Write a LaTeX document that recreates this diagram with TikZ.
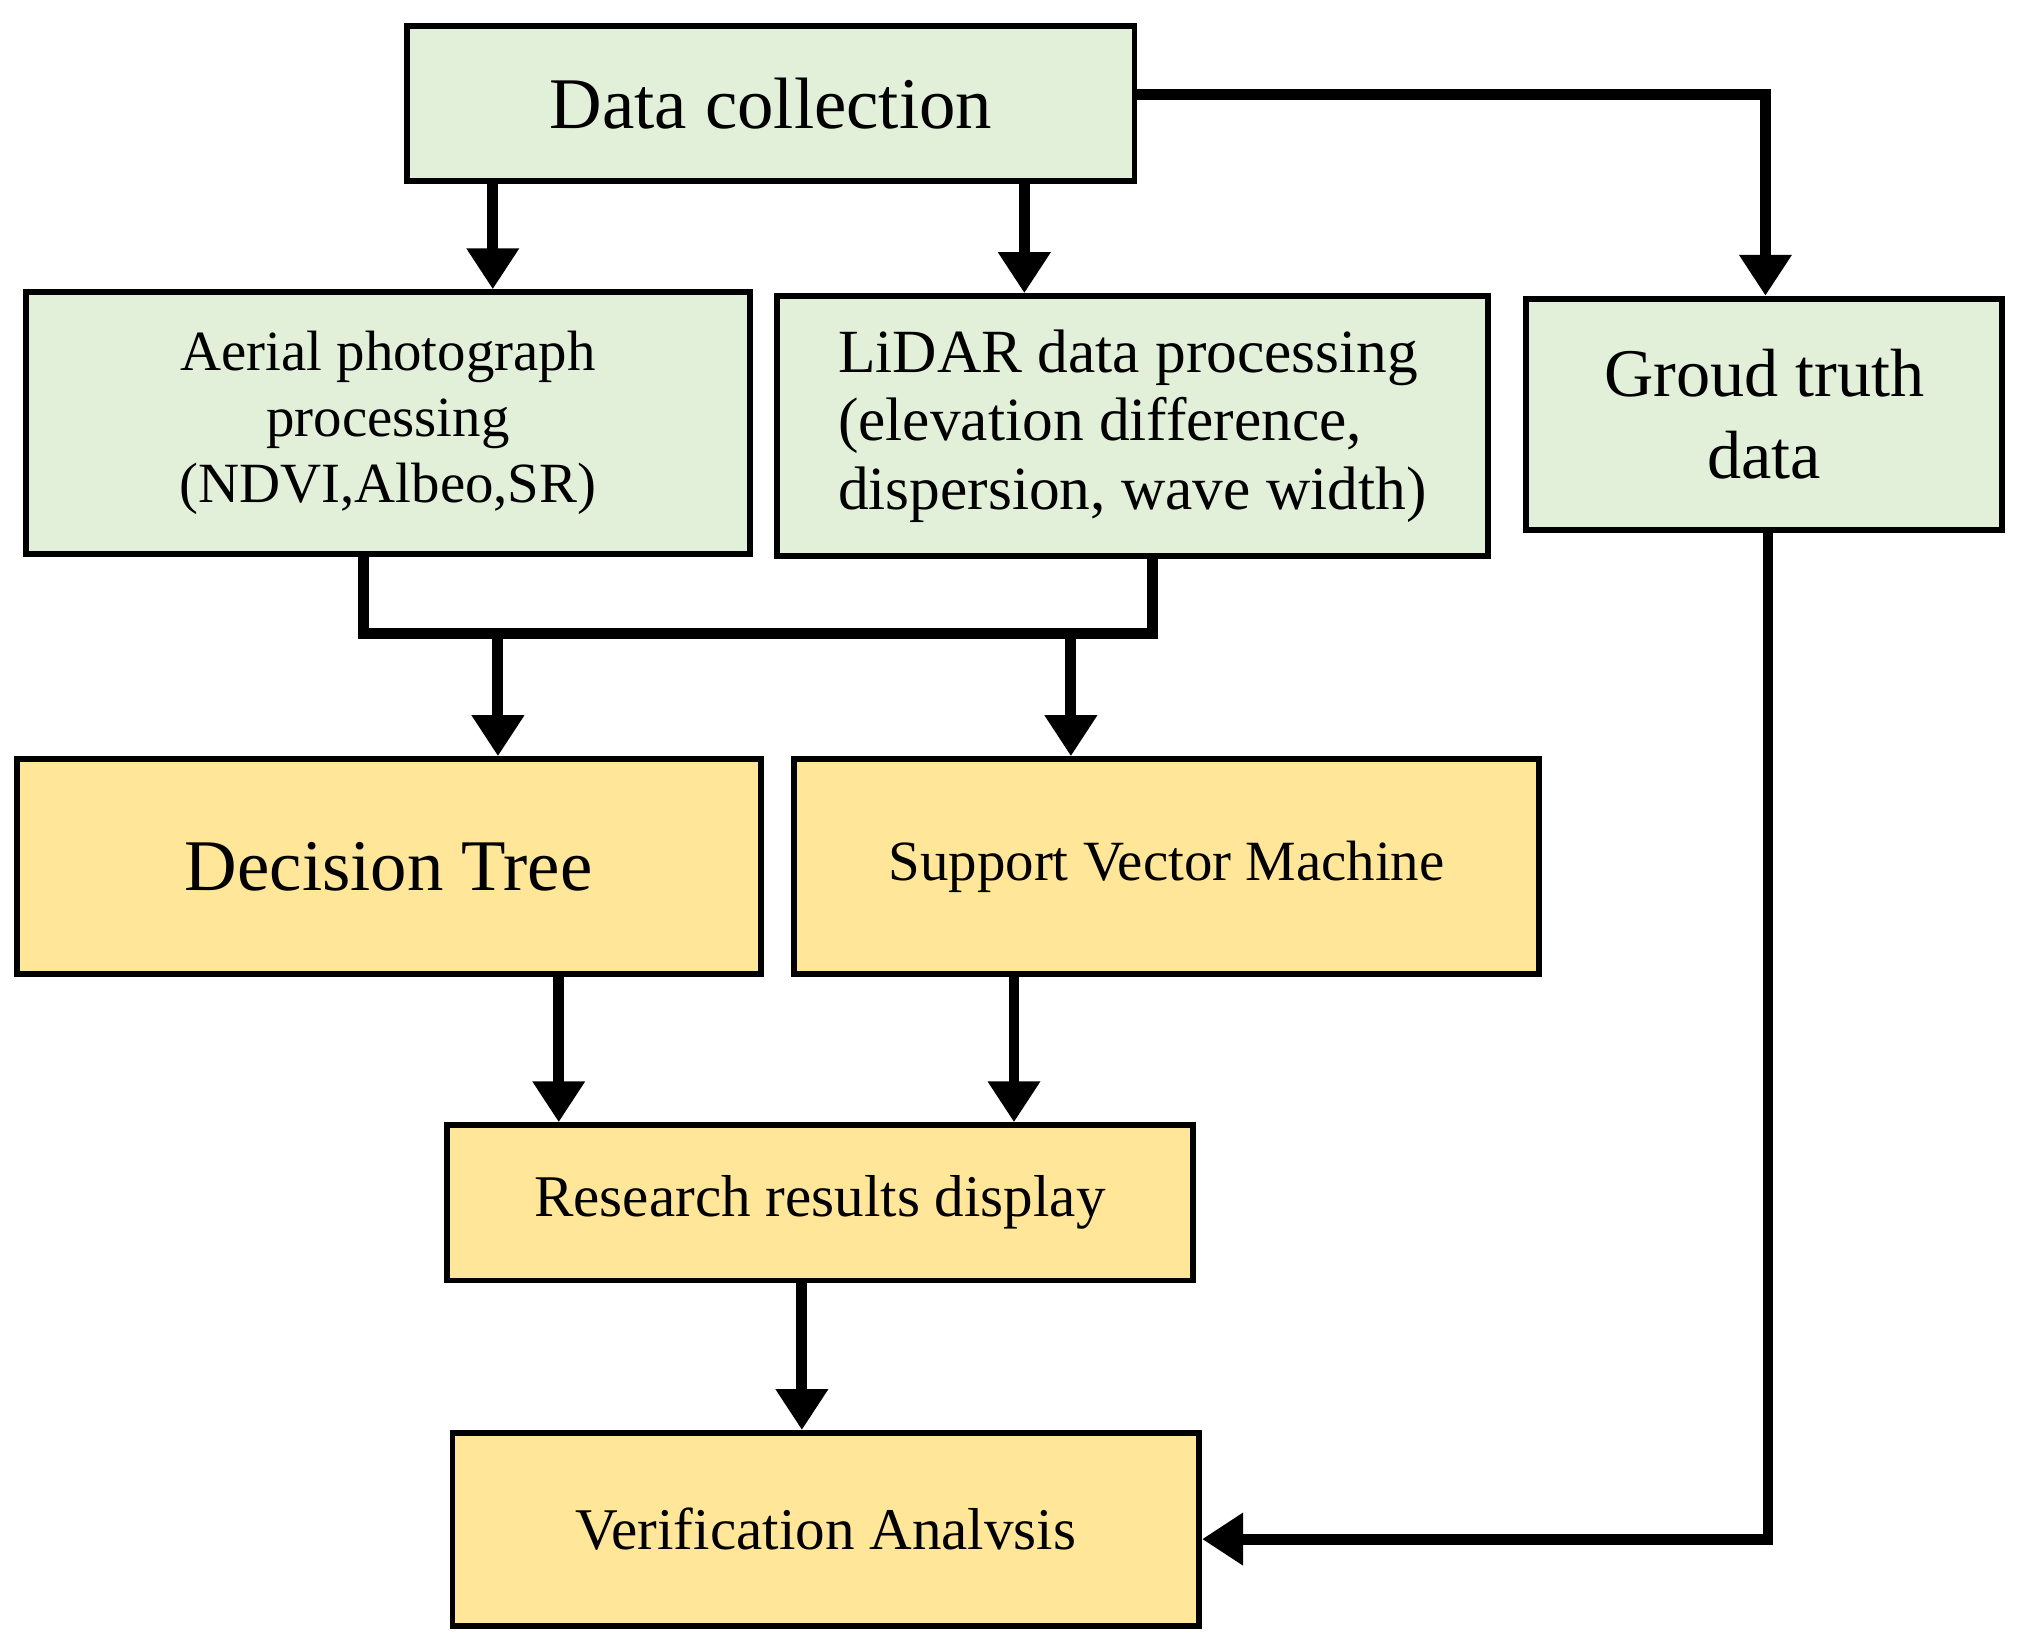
\documentclass[tikz,border=0pt]{standalone}
\usepackage{fontspec}
\setmainfont{Liberation Serif}
\usetikzlibrary{arrows.meta}
\definecolor{gr}{HTML}{E2EFD9}
\definecolor{ye}{HTML}{FFE699}
\begin{document}
\begin{tikzpicture}[x=0.01cm,y=-0.01cm,
 box/.style={draw=black,line width=1.3pt,align=center,inner sep=0pt},
 g/.style={box,fill=gr}, yb/.style={box,fill=ye},
 arr/.style={line width=2.4pt,-{Triangle[length=9pt,width=11pt]}},
 ln/.style={line width=2.4pt}]
\useasboundingbox (0,0) rectangle (1568,1276);
\newcommand{\bx}[7]{\node[#1,minimum width={(#4-#2)*0.01cm},minimum height={(#5-#3)*0.01cm},font=#7] (#6) at ({(#2+#4)/2},{(#3+#5)/2}) {};}
\node[g,minimum width=5.62cm,minimum height=1.2cm,font=\fontsize{16}{19}\selectfont] (dc) at (596,80) {Data collection};
\node[g,minimum width=5.6cm,minimum height=2.02cm,font=\fontsize{12.5}{14.5}\selectfont] (ap) at (300,327) {Aerial photograph\\processing\\(NDVI,Albeo,SR)};
\node[g,minimum width=5.49cm,minimum height=2.01cm,font=\fontsize{13.5}{15}\selectfont,align=left] (li) at (875.5,329.5) {LiDAR data processing\\(elevation difference,\\dispersion, wave width)};
\node[g,minimum width=3.68cm,minimum height=1.79cm,font=\fontsize{15}{18}\selectfont] (gt) at (1364,320.5) {Groud truth\\data};
\node[yb,minimum width=5.75cm,minimum height=1.66cm,font=\fontsize{16}{19}\selectfont] (dt) at (300.5,670) {Decision Tree};
\node[yb,minimum width=5.76cm,minimum height=1.66cm,font=\fontsize{12.5}{15}\selectfont] (svm) at (902,670) {Support Vector Machine};
\node[yb,minimum width=5.76cm,minimum height=1.2cm,font=\fontsize{13}{15}\selectfont] (rr) at (634,930) {Research results display};
\node[yb,minimum width=5.77cm,minimum height=1.49cm,font=\fontsize{13}{15}\selectfont] (va) at (638.5,1182.5) {Verification Analvsis};
\coordinate (j1) at (281,490); \coordinate (j2) at (891,490);
\coordinate (c1) at (1365,73);
\draw[arr] (dc.south -| 381,0) -- (ap.north -| 381,0);
\draw[arr] (dc.south -| 792,0) -- (li.north -| 792,0);
\draw[arr] (dc.east |- c1) -- (c1) -- (gt.north -| c1);
\draw[ln] (ap.south -| j1) -- (j1) -- (j2) -- (li.south -| j2);
\draw[arr] (385,490) -- (dt.north -| 385,0);
\draw[arr] (828,490) -- (svm.north -| 828,0);
\draw[arr] (dt.south -| 432,0) -- (rr.north -| 432,0);
\draw[arr] (svm.south -| 784,0) -- (rr.north -| 784,0);
\draw[arr] (rr.south -| 620,0) -- (va.north -| 620,0);
\draw[arr] (gt.south -| 1367,0) -- (1367,1190) -- (va.east |- 0,1190);
\end{tikzpicture}
\end{document}
